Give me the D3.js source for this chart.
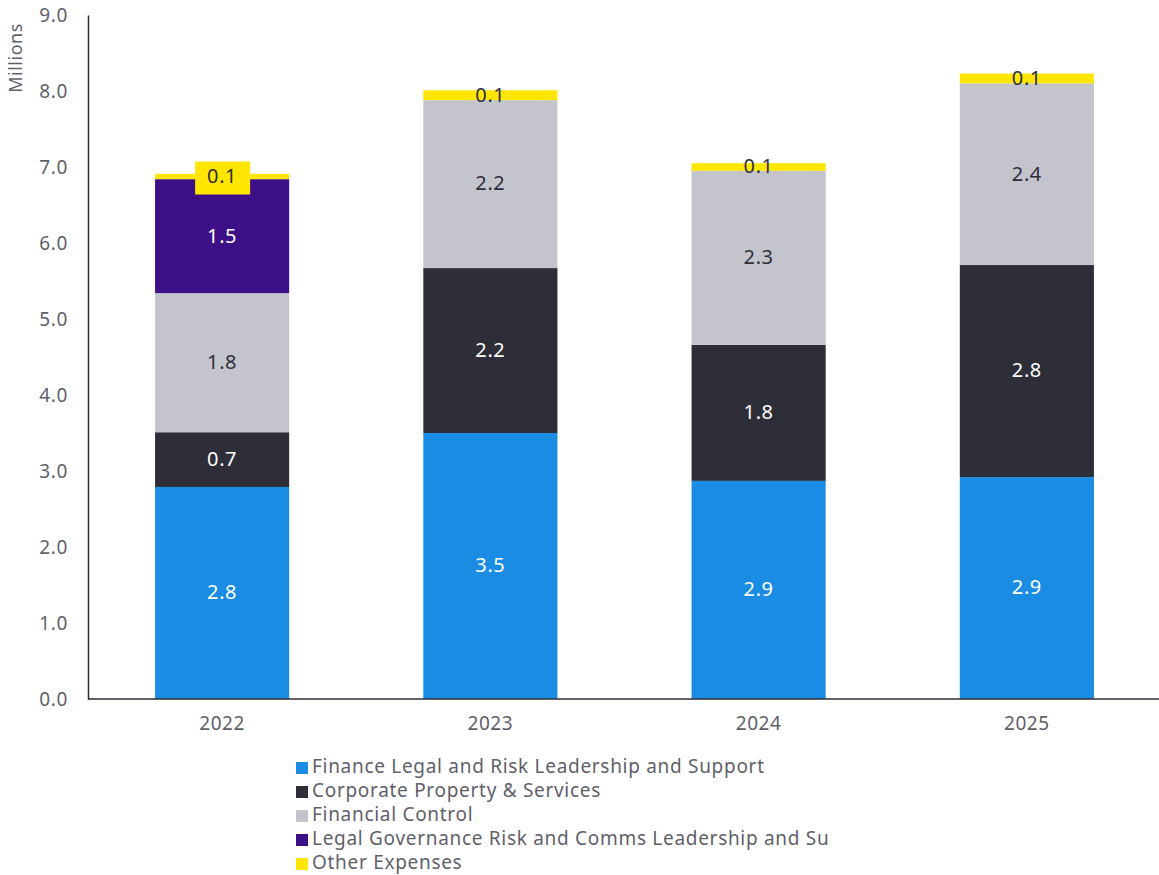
<!DOCTYPE html>
<html>
<head>
<meta charset="utf-8">
<script src="https://cdn.jsdelivr.net/npm/d3@7"></script>
<style>
  body { margin: 0; background: #fff; }
  text { font-family: "Noto Sans", "DejaVu Sans", sans-serif; }
</style>
</head>
<body>
<svg width="1159" height="875"></svg>
<script>
const years = ['2022', '2023', '2024', '2025'];
const seriesNames = [
  'Finance Legal and Risk Leadership and Support',
  'Corporate Property & Services',
  'Financial Control',
  'Legal Governance Risk and Comms Leadership and Su',
  'Other Expenses'
];
const colors = ['#1a8ce3', '#2e2e38', '#c4c4cd', '#3d1088', '#ffe600'];
const labelColors = ['#fff', '#fff', '#2e2e38', '#fff', '#2e2e38'];

const financeLegal = [2.79, 3.50, 2.87, 2.92];
const corporateProperty = [0.72, 2.17, 1.79, 2.79];
const financialControl = [1.83, 2.21, 2.29, 2.39];
const legalGovernance = [1.50, 0, 0, 0];
const otherExpenses = [0.07, 0.13, 0.10, 0.13];
const yTicks = [0, 1, 2, 3, 4, 5, 6, 7, 8, 9];

const seriesValues = [financeLegal, corporateProperty, financialControl, legalGovernance, otherExpenses];
const data = years.map((y, i) => {
  const row = {year: y};
  seriesNames.forEach((s, j) => row[s] = seriesValues[j][i]);
  return row;
});

const margin = {top: 15, right: 0, left: 88, bottom: 176};
const width = 1159, height = 875;
const svg = d3.select('svg');

const x = d3.scaleBand()
  .domain(years)
  .range([margin.left, width + 2])
  .paddingInner(0.5)
  .paddingOuter(0.25);

const y = d3.scaleLinear()
  .domain([0, 9])
  .range([height - margin.bottom, margin.top]);

const stacked = d3.stack().keys(seriesNames)(data);

const g = svg.append('g');

stacked.forEach((layer, j) => {
  g.append('g')
    .selectAll('rect')
    .data(layer)
    .join('rect')
    .attr('x', d => x(d.data.year))
    .attr('width', x.bandwidth())
    .attr('y', d => y(d[1]))
    .attr('height', d => y(d[0]) - y(d[1]))
    .attr('fill', colors[j]);
});

// value labels
stacked.forEach((layer, j) => {
  layer.forEach(d => {
    const v = d[1] - d[0];
    if (v <= 0) return;
    const cx = x(d.data.year) + x.bandwidth() / 2;
    const cy = (y(d[0]) + y(d[1])) / 2;
    // small yellow slice on top of the purple bar gets a boxed label
    if (j === 4 && d.data.year === '2022') {
      g.append('rect')
        .attr('x', cx - 27)
        .attr('y', cy - 15)
        .attr('width', 55)
        .attr('height', 33)
        .attr('fill', colors[4]);
    }
    g.append('text')
      .attr('x', cx)
      .attr('y', cy + 1)
      .attr('text-anchor', 'middle')
      .attr('dominant-baseline', 'middle')
      .attr('font-size', 20)
      .attr('letter-spacing', 0.6)
      .attr('fill', labelColors[j])
      .text(v.toFixed(1));
  });
});

// axes
const yAxis = g.append('g')
  .attr('transform', `translate(${margin.left},0)`)
  .call(d3.axisLeft(y).tickValues(yTicks).tickFormat(d3.format('.1f')).tickSize(0).tickPadding(20));
yAxis.select('.domain').attr('stroke', '#2e2e38').attr('stroke-width', 1.5);
yAxis.selectAll('text').attr('font-size', 19).attr('letter-spacing', 0.6).attr('fill', '#5f5f6a');

const xAxis = g.append('g')
  .attr('transform', `translate(0,${y(0)})`)
  .call(d3.axisBottom(x).tickSize(0).tickPadding(18));
xAxis.select('.domain').attr('stroke', '#2e2e38').attr('stroke-width', 1.5)
  .attr('d', `M${margin.left},0H${width}`);
xAxis.selectAll('text').attr('font-size', 19).attr('letter-spacing', 0.6).attr('fill', '#5f5f6a');

svg.append('text')
  .attr('transform', 'translate(22,58) rotate(-90)')
  .attr('text-anchor', 'middle')
  .attr('font-size', 18)
  .attr('letter-spacing', 0.5)
  .attr('fill', '#5f5f6a')
  .text('Millions');

// legend
const legend = svg.append('g').attr('transform', 'translate(296,768)');
seriesNames.forEach((s, i) => {
  const row = legend.append('g').attr('transform', `translate(0,${i * 24})`);
  row.append('rect')
    .attr('x', 0).attr('y', -6)
    .attr('width', 12).attr('height', 12)
    .attr('fill', colors[i]);
  row.append('text')
    .attr('x', 16)
    .attr('y', 0)
    .attr('dominant-baseline', 'middle')
    .attr('font-size', 19)
    .attr('letter-spacing', 0.7)
    .attr('fill', '#5f5f6a')
    .text(s);
});
</script>
</body>
</html>
